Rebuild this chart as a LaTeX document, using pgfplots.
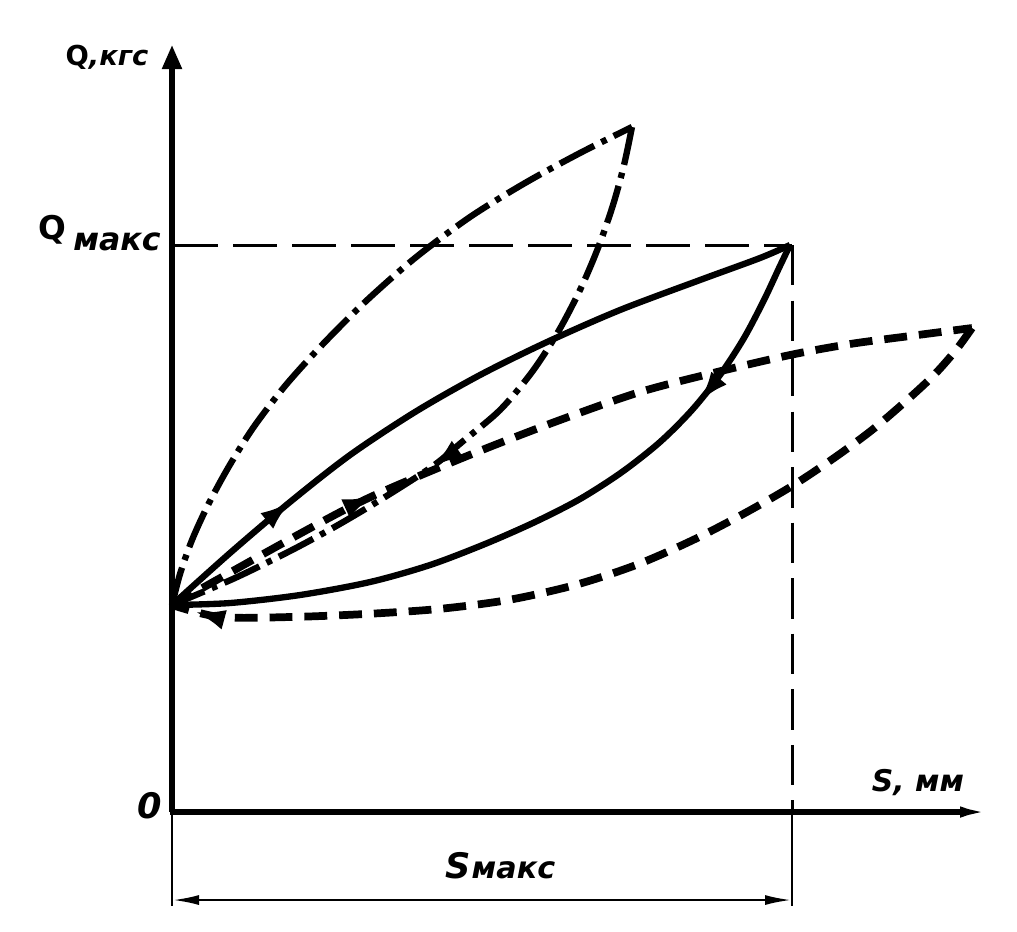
\documentclass[border=0pt]{standalone}
\usepackage{fontspec}
\usepackage{pgfplots}
\pgfplotsset{compat=1.18}
\usetikzlibrary{arrows.meta,decorations.markings}
\newfontfamily\lab{DejaVu Sans}

% loops: upper (loading) and lower (unloading) branches in pixels
\pgfplotstableread{
x y
172 605
180 574
192 540
208 505
228 468
253 428
285 386
322 345
365 302
415 258
470 217
525 183
580 153
632 127
}\dduppr
\pgfplotstableread{
x y
632 127
624 165
613 205
598 248
580 290
558 332
532 372
500 410
462 442
433 466
385 497
338 525
292 550
235 578
172 605
}\ddlowr
\pgfplotstableread{
x y
172 605
230 553
290 502
350 455
415 412
480 375
547 342
620 310
700 280
760 258
790 245
}\solidup
\pgfplotstableread{
x y
790 245
779 268
764 300
744 338
720 375
692 410
660 442
622 472
580 499
535 522
485 544
430 565
370 582
300 595
230 603
172 605
}\solidlo
\pgfplotstableread{
x y
172 605
283 543
348 508
393 487
477 452
560 420
640 392
717 372
790 355
850 344
910 336
972 328
}\dashup
\pgfplotstableread{
x y
972 328
956 350
934 375
906 401
872 430
834 458
792 486
745 513
693 540
636 565
575 585
508 600
438 609
365 614
290 617
220 617
172 605
}\dashlo

\tikzset{
  arr/.style={postaction={decorate},
    decoration={markings, mark=at position #1 with {\arrow[solid]{Latex[length=3.2mm,width=2mm]}}}},
  lbl/.style={font=\lab\bfseries\itshape, inner sep=0pt},
}

\begin{document}
\begin{tikzpicture}
\begin{axis}[
  width=10.17cm, height=9.31cm, scale only axis,
  xmin=0, xmax=1017, ymin=0, ymax=931, y dir=reverse,
  hide axis, clip=false,
]
\addplot[draw=none] coordinates {(0,0) (1017,931)};

% axes
\draw[line width=1.45pt, -{Triangle[length=2.4mm,width=1.9mm]}] (axis cs:172,812) -- (axis cs:172,45);
\draw[line width=1.45pt, -{Latex[length=3.2mm,width=1.1mm]}] (axis cs:170,812) -- (axis cs:992,812);
\draw[line width=0.6pt] (axis cs:172,812) -- (axis cs:172,906);
\draw[line width=0.6pt] (axis cs:792,812) -- (axis cs:792,906);
\draw[line width=0.6pt, {Latex[length=2.6mm,width=1mm]}-{Latex[length=2.6mm,width=1mm]}] (axis cs:173,900) -- (axis cs:791,900);

% Q max / S max guide lines
\draw[line width=0.85pt, dash pattern=on 12.5pt off 4.3pt] (axis cs:174,245) -- (axis cs:792,245);
\draw[line width=0.85pt, dash pattern=on 11.5pt off 4.3pt] (axis cs:792,245) -- (axis cs:792,812);

% dash-dot loop
\addplot[smooth, line width=1.8pt, line cap=butt, dash pattern=on 11pt off 2.3pt on 1.6pt off 2.3pt] table {\dduppr};
\addplot[smooth, line width=1.8pt, line cap=butt, dash pattern=on 11pt off 2.3pt on 1.6pt off 2.3pt, arr=0.58] table {\ddlowr};

% solid loop
\addplot[smooth, line width=1.8pt, arr=0.22] table {\solidup};
\addplot[smooth, line width=1.8pt, arr=0.24] table {\solidlo};

% dashed loop
\addplot[smooth, line width=2.2pt, line cap=butt, dash pattern=on 6.5pt off 3.4pt, arr=0.27] table {\dashup};
\addplot[smooth, line width=2.2pt, line cap=butt, dash pattern=on 6.5pt off 3.4pt, arr=0.975] table {\dashlo};

% labels
\node[lbl, font=\lab\bfseries\itshape\fontsize{7.8}{9}\selectfont] at (axis cs:107,57) {{\upshape Q},кгс};
\node[lbl, font=\lab\bfseries\fontsize{9.3}{11}\selectfont] at (axis cs:52,230) {Q};
\node[lbl, font=\lab\bfseries\itshape\fontsize{9}{11}\selectfont] at (axis cs:117,242) {макс};
\node[lbl, font=\lab\bfseries\itshape\fontsize{10}{12}\selectfont] at (axis cs:150,806) {0};
\node[lbl, font=\lab\bfseries\itshape\fontsize{8.5}{10}\selectfont] at (axis cs:918,783) {S, мм};
\node[lbl, font=\lab\bfseries\itshape\fontsize{10}{12}\selectfont, anchor=base west] at (axis cs:445,878) {S};
\node[lbl, font=\lab\bfseries\itshape\fontsize{8.6}{10}\selectfont, anchor=base west] at (axis cs:471,878) {макс};
\end{axis}
\end{tikzpicture}
\end{document}
